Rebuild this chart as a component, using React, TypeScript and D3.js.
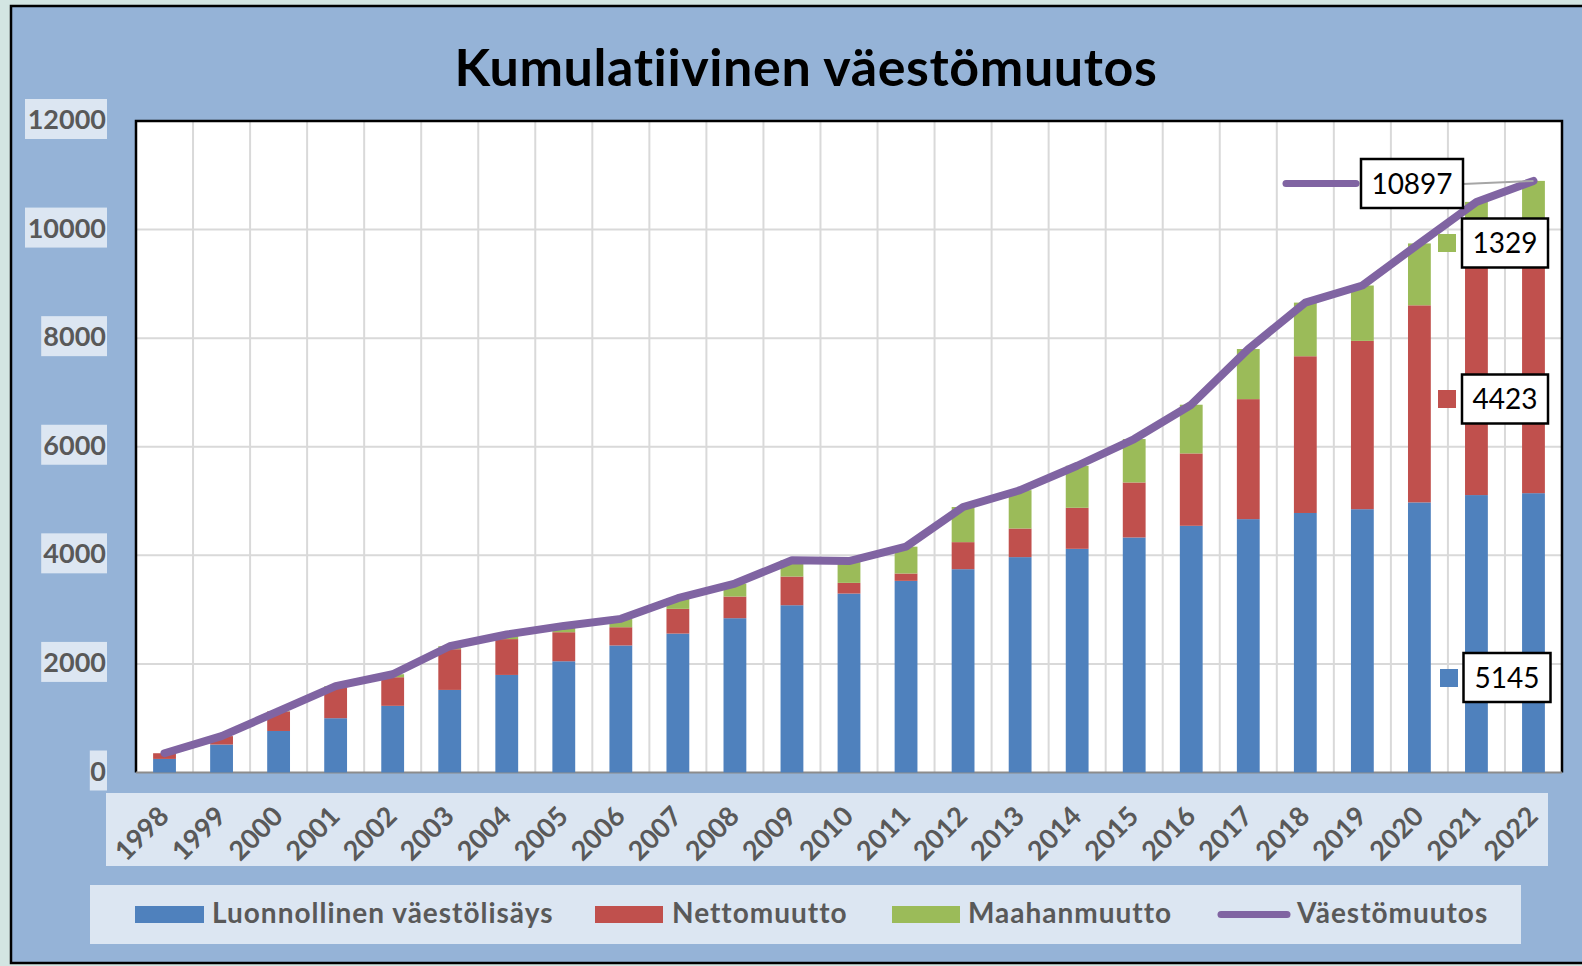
import React from "react";
import * as d3 from "d3";

const years = ["1998","1999","2000","2001","2002","2003","2004","2005","2006","2007","2008","2009","2010","2011","2012","2013","2014","2015","2016","2017","2018","2019","2020","2021","2022"];
const luonnollinen = [250,515,765,1000,1228,1521,1797,2049,2340,2559,2842,3081,3296,3530,3745,3967,4120,4329,4544,4667,4780,4850,4975,5110,5145];
const nettomuutto = [105,155,360,570,527,750,660,535,336,455,399,528,197,135,498,527,756,1013,1333,2210,2887,3100,3630,4190,4423];
const maahanmuutto = [0,0,5,20,55,55,85,116,154,196,239,301,402,495,647,706,774,800,897,923,988,1020,1140,1210,1329];
const vaestomuutos = [355,670,1130,1590,1810,2326,2542,2700,2830,3210,3480,3910,3895,4160,4890,5200,5650,6142,6774,7800,8655,8970,9745,10510,10897];
const yTicks = [0,2000,4000,6000,8000,10000,12000];
const seriesNames = ["Luonnollinen väestölisäys","Nettomuutto","Maahanmuutto","Väestömuutos"];

const COLORS = { blue: "#4F81BD", red: "#C0504D", green: "#9BBB59", purple: "#8064A2" };
const FONT = "Lato, 'Open Sans', sans-serif";
const GRAY = "#595959";

export default function App() {
  const L = 136, R = 1562, T = 121, B = 772.5;
  const x = d3.scaleBand<string>().domain(years).range([L, R]).paddingInner(0.6).paddingOuter(0.3);
  const y = d3.scaleLinear().domain([0, 12000]).range([B, T]);
  const step = x.step();
  const bw = x.bandwidth();
  const cx = (yr: string) => (x(yr) as number) + bw / 2;

  const stacked = years.map((yr, i) => {
    const b0 = 0, b1 = luonnollinen[i];
    const r1 = b1 + nettomuutto[i];
    const g1 = r1 + maahanmuutto[i];
    return { yr, segs: [[b0, b1, COLORS.blue], [b1, r1, COLORS.red], [r1, g1, COLORS.green]] as [number, number, string][] };
  });

  const line = d3.line<number>().x((_, i) => cx(years[i])).y((d) => y(d));
  const last = years.length - 1;
  const lastX = cx(years[last]);
  const lastY = y(vaestomuutos[last]);

  const vGrid = d3.range(1, years.length).map((k) => L + k * step);

  const labelBox = (bx: number, by: number, w: number, h: number, text: string) => (
    <g>
      <rect x={bx} y={by} width={w} height={h} fill="#fff" stroke="#000" strokeWidth={2.5} />
      <text x={bx + w / 2} y={by + h / 2 + 10} textAnchor="middle" fontFamily={FONT} fontSize={28} fill="#000">{text}</text>
    </g>
  );

  const legendItems = [
    { sx: 135, sw: 69, tx: 212, color: COLORS.blue, kind: "rect" },
    { sx: 595, sw: 68, tx: 672, color: COLORS.red, kind: "rect" },
    { sx: 892, sw: 68, tx: 968, color: COLORS.green, kind: "rect" },
    { sx: 1218, sw: 72, tx: 1297, color: COLORS.purple, kind: "line" },
  ];

  return (
    <svg width={1582} height={966} style={{ position: "absolute", left: 0, top: 0 }}>
      <rect x={0} y={0} width={1582} height={966} fill="#D3E5E2" />
      <rect x={11} y={6} width={1590} height={957} fill="#95B3D7" stroke="#000" strokeWidth={2.5} />
      <text x={806} y={86} textAnchor="middle" fontFamily={FONT} fontWeight={700} fontSize={52} letterSpacing={0.6} fill="#000">Kumulatiivinen väestömuutos</text>

      {/* plot area */}
      <rect x={L} y={T} width={R - L} height={B - T} fill="#fff" />
      {vGrid.map((gx, i) => (
        <line key={"v" + i} x1={gx} x2={gx} y1={T} y2={B} stroke="#D9D9D9" strokeWidth={2} />
      ))}
      {yTicks.slice(1, -1).map((t) => (
        <line key={"h" + t} x1={L} x2={R} y1={y(t)} y2={y(t)} stroke="#D9D9D9" strokeWidth={2} />
      ))}
      <path d={`M${L},${B} V${T} H${R} V${B}`} fill="none" stroke="#000" strokeWidth={2.5} />
      <line x1={L} x2={R} y1={B} y2={B} stroke="#8C8C8C" strokeWidth={2} />

      {/* y labels */}
      {yTicks.map((t) => {
        const s = String(t);
        const w = 16.2 * s.length + 1;
        return (
          <g key={"yl" + t}>
            <rect x={107 - w} y={y(t) - 22} width={w} height={40} fill="#DCE6F2" />
            <text x={106} y={y(t) + 8} textAnchor="end" fontFamily={FONT} fontWeight={700} fontSize={27} fill={GRAY}>{s}</text>
          </g>
        );
      })}

      {/* bars */}
      {stacked.map((s) => (
        <g key={"b" + s.yr}>
          {s.segs.filter((sg) => sg[1] > sg[0]).map((sg, j) => (
            <rect key={j} x={x(s.yr)} y={y(sg[1])} width={bw} height={y(sg[0]) - y(sg[1])} fill={sg[2]} />
          ))}
        </g>
      ))}

      {/* line */}
      <path d={line(vaestomuutos) || ""} fill="none" stroke={COLORS.purple} strokeWidth={8} strokeLinejoin="round" strokeLinecap="round" />

      {/* data labels */}
      <line x1={1463} y1={184} x2={lastX} y2={lastY} stroke="#A6A6A6" strokeWidth={2} />
      <line x1={1286} y1={183.5} x2={1356} y2={183.5} stroke={COLORS.purple} strokeWidth={7} strokeLinecap="round" />
      {labelBox(1361, 159, 102, 49, String(vaestomuutos[last]))}
      <rect x={1438} y={234} width={18} height={18} fill={COLORS.green} />
      {labelBox(1462, 218.5, 86, 49, String(maahanmuutto[last]))}
      <rect x={1438} y={390} width={18} height={18} fill={COLORS.red} />
      {labelBox(1462, 374.5, 86, 49, String(nettomuutto[last]))}
      <rect x={1440} y={669} width={18} height={18} fill={COLORS.blue} />
      {labelBox(1463.5, 653, 87, 49, String(luonnollinen[last]))}

      {/* x labels */}
      <rect x={106} y={793} width={1442} height={73} fill="#DCE6F2" />
      {years.map((yr) => (
        <text key={"xl" + yr} transform={`translate(${cx(yr) + 6},${818}) rotate(-45)`} textAnchor="end" fontFamily={FONT} fontWeight={700} fontSize={27} fill={GRAY}>{yr}</text>
      ))}

      {/* legend */}
      <rect x={90} y={885} width={1431} height={59} fill="#DCE6F2" />
      {legendItems.map((it, i) => (
        <g key={"lg" + i}>
          {it.kind === "rect" ? (
            <rect x={it.sx} y={906} width={it.sw} height={17} fill={it.color} />
          ) : (
            <line x1={it.sx + 3} x2={it.sx + it.sw - 3} y1={914.5} y2={914.5} stroke={it.color} strokeWidth={7} strokeLinecap="round" />
          )}
          <text x={it.tx} y={923} fontFamily={FONT} fontWeight={700} fontSize={28} letterSpacing={1} fill={GRAY}>{seriesNames[i]}</text>
        </g>
      ))}
    </svg>
  );
}
